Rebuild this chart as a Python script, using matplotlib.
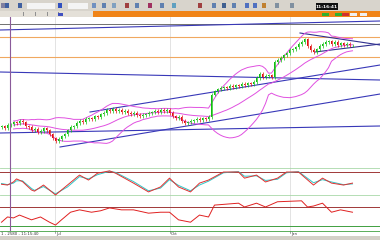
import matplotlib
matplotlib.use('Agg')
import matplotlib.pyplot as plt
import numpy as np
import pandas as pd
from matplotlib.patches import Rectangle

# ---------------- data ----------------
closes = [1.341, 1.339, 1.342, 1.343, 1.345, 1.344, 1.346, 1.345, 1.341, 1.340,
          1.337, 1.338, 1.335, 1.336, 1.339, 1.337, 1.333, 1.329, 1.326, 1.328,
          1.331, 1.333, 1.337, 1.340, 1.341, 1.344, 1.346, 1.345, 1.348, 1.349,
          1.348, 1.351, 1.350, 1.353, 1.354, 1.357, 1.356, 1.358, 1.356, 1.357,
          1.355, 1.356, 1.354, 1.353, 1.354, 1.352, 1.351, 1.352, 1.353, 1.354,
          1.355, 1.356, 1.355, 1.357, 1.356, 1.357, 1.354, 1.351, 1.349, 1.350,
          1.346, 1.344, 1.345, 1.346, 1.347, 1.348, 1.347, 1.349, 1.348, 1.350,
          1.372, 1.376, 1.378, 1.379, 1.380, 1.379, 1.381, 1.380, 1.382, 1.381,
          1.383, 1.382, 1.384, 1.383, 1.385, 1.389, 1.393, 1.390, 1.391, 1.392,
          1.390, 1.405, 1.407, 1.409, 1.412, 1.414, 1.417, 1.418, 1.420, 1.423,
          1.425, 1.428, 1.421, 1.417, 1.415, 1.418, 1.421, 1.423, 1.425, 1.426,
          1.423, 1.425, 1.422, 1.424, 1.422, 1.423, 1.422, 1.422]
first_open = 1.340
wick = 0.0015

# trend lines: (start index, start price, end index, end price, colour)
trend_lines = [
    (-0.5, 1.437, 126.2, 1.446, '#3838b8'),
    (-0.5, 1.395, 126.2, 1.387, '#3838b8'),
    (29.5, 1.355, 126.2, 1.402, '#3838b8'),
    (19.5, 1.320, 126.2, 1.373, '#3838b8'),
    (-0.5, 1.334, 126.2, 1.341, '#3838b8'),
    (99.5, 1.434, 126.2, 1.422, '#303090'),
    (104.5, 1.415, 126.2, 1.423, '#303090'),
]
grey_level = 1.443
orange_levels = [1.430, 1.410]

time_idx = [17.8, 56.2, 96.2]
time_labels = ['Jul', 'Oct', 'Jan']
marker_idx = 2.7

stoch_idx = [0, 2, 4, 5, 7, 10, 11, 14, 18, 22, 26, 29, 32, 36, 38, 44, 49, 53, 56, 59,
             63, 66, 69, 74, 79, 81, 85, 88, 92, 95, 99, 104, 107, 110, 114, 117]
stoch_k = [48, 46, 54, 62, 55, 33, 30, 46, 20, 46, 72, 59, 77, 83, 77, 51, 28, 41, 64, 41,
           28, 51, 59, 80, 80, 64, 72, 54, 64, 80, 80, 46, 64, 51, 46, 51]
stoch_d = [50, 47, 51, 57, 57, 37, 32, 42, 23, 41, 68, 62, 73, 82, 79, 55, 31, 38, 60, 45,
           31, 46, 56, 78, 81, 69, 70, 58, 61, 78, 81, 52, 60, 54, 47, 49]

rsi_idx = [0, 2, 4, 6, 8, 10, 13, 16, 18, 20, 23, 26, 30, 33, 36, 40, 44, 49, 53, 56,
           59, 63, 66, 69, 71, 75, 79, 81, 85, 88, 92, 96, 100, 102, 104, 107, 110, 113, 117]
rsi_vals = [38, 49, 47, 53, 48, 43, 49, 38, 32, 43, 59, 64, 59, 62, 68, 64, 64, 57, 59, 59,
            43, 38, 53, 49, 74, 76, 78, 70, 78, 70, 81, 82, 83, 70, 72, 78, 59, 64, 59]

# ---------------- figure ----------------
W, H = 380, 240
fig = plt.figure(figsize=(3.8, 2.4), dpi=100)
fig.patch.set_facecolor('white')
plt.rcParams['font.family'] = ['DejaVu Sans']


def rect(x0, y0, x1, y1):
    return [x0 / W, 1 - y1 / H, (x1 - x0) / W, (y1 - y0) / H]


def box(x0, y0, x1, y1, color, z=0):
    fig.add_artist(Rectangle((x0 / W, 1 - y1 / H), (x1 - x0) / W, (y1 - y0) / H,
                             transform=fig.transFigure, facecolor=color,
                             edgecolor='none', zorder=z))


# toolbar
box(0, 0, 380, 11.5, '#d8d4cc')
box(0, 11.5, 93, 16.5, '#e4e0d8')
box(93, 11.5, 380, 16.5, '#f08418')
for x0, c in [(1, '#8080a0'), (5, '#4060a0'), (18, '#4060a0'), (58, '#3050c0'),
              (92, '#7090c0'), (102, '#6080b0'), (112, '#80a0c0'), (125, '#a04040'),
              (135, '#6080b0'), (148, '#a03060'), (160, '#6080b0'), (172, '#60a0c0'),
              (198, '#a04040'), (212, '#6080b0'), (222, '#406090'), (232, '#6080b0'),
              (245, '#5070c0'), (253, '#5070c0'), (262, '#c08030'), (275, '#8090a0'),
              (290, '#8090a0')]:
    box(x0, 3, x0 + 4, 8, c, 1)
box(27, 3, 55, 8.5, '#f4f4f4', 1)
box(68, 3, 88, 8.5, '#f4f4f4', 1)
box(316, 3.5, 338, 9.5, '#101010', 1)
fig.text(327 / W, 1 - 6.6 / H, '11:16:41', color='white', fontsize=3.2,
         ha='center', va='center', fontweight='bold', zorder=2)
for x0, c in [(322, '#30b030'), (335, '#30b030'), (342, '#d03030'), (350, '#f0f0f0'),
              (360, '#f0f0f0')]:
    box(x0, 12.5, x0 + 7, 15.5, c, 1)
for x0 in [15, 23, 35, 47, 58]:
    box(x0, 12, x0 + 0.5, 16, '#909090', 1)
box(58, 12.5, 63, 15.5, '#4050c0', 1)

# status / time strip
box(0, 236, 380, 240, '#d4d0c8')

# ---------------- main chart ----------------
n = len(closes)
idx = np.arange(n)
opens = np.array([first_open] + closes[:-1])
cl = np.array(closes)
up = cl >= opens
highs = np.maximum(opens, cl) + wick
lows = np.minimum(opens, cl) - wick

ax = fig.add_axes(rect(0, 17, 380, 166))
ax1 = fig.add_axes(rect(0, 166, 380, 200))
ax2 = fig.add_axes(rect(0, 200, 380, 231))
for a in (ax, ax1, ax2):
    a.set_xlim(-0.5, W / 3 - 0.5)
    a.axis('off')
    for t in time_idx:
        a.axvline(t, color='#d8d8d8', lw=0.5, zorder=0)
    a.axvline(marker_idx, color='#8a5a9a', lw=0.8, zorder=5)

ax.set_ylim(1.301, 1.450)
ax.axhline(grey_level, color='#707070', lw=0.7, zorder=1)
for lv in orange_levels:
    ax.axhline(lv, color='#f0a860', lw=0.8, zorder=1)
for x0, y0, x1, y1, c in trend_lines:
    ax.plot([x0, x1], [y0, y1], color=c, lw=0.8, zorder=2)

s = pd.Series(cl)
mid = s.rolling(20, min_periods=5).mean()
sd = s.rolling(20, min_periods=5).std(ddof=0)
for band in (mid + 2 * sd, mid, mid - 2 * sd):
    ax.plot(idx, band, color='#e050e0', lw=0.7, zorder=3)

colors = np.where(up, '#10c010', '#e01010')
ax.vlines(idx, lows, highs, colors=colors, lw=0.5, zorder=4)
heights = np.where(np.abs(cl - opens) < 0.0005, 0.0005, cl - opens)
ax.bar(idx, heights, bottom=opens, width=0.65, color=colors, zorder=4)

# ---------------- stochastic ----------------
ax1.set_ylim(6.9, 95.7)
ax1.axhline(90.4, color='#a8d8a8', lw=0.6)
ax1.axhline(80, color='#a03838', lw=0.7)
ax1.axhline(20, color='#a8d8a8', lw=0.6)
ax1.plot(stoch_idx, stoch_d, color='#30c8c8', lw=0.7, zorder=3)
ax1.plot(stoch_idx, stoch_k, color='#e03030', lw=0.7, zorder=4)

# ---------------- second oscillator ----------------
ax2.set_ylim(19.5, 84.7)
ax2.axhline(70, color='#a03838', lw=0.7)
ax2.axhline(30, color='#40a040', lw=0.7)
ax2.plot(rsi_idx, rsi_vals, color='#e02020', lw=0.7, zorder=3)

# time labels
for t, lab in zip(time_idx, time_labels):
    xp = (t + 0.5) * 3
    fig.add_artist(plt.Line2D([xp / W, xp / W], [1 - 231 / H, 1 - 233 / H],
                              transform=fig.transFigure, color='#606060', lw=0.4))
    fig.text((xp + 1) / W, 1 - 234 / H, lab, fontsize=2.8, color='#303030',
             ha='left', va='center')
fig.text(1 / W, 1 - 234 / H, '1 - 2580 - 11:15:40', fontsize=2.8, color='#303030',
         ha='left', va='center')
fig.add_artist(plt.Line2D([0, 1], [1 - 231 / H, 1 - 231 / H],
                          transform=fig.transFigure, color='#40a040', lw=0.6))

fig.savefig('out.png', dpi=100)
